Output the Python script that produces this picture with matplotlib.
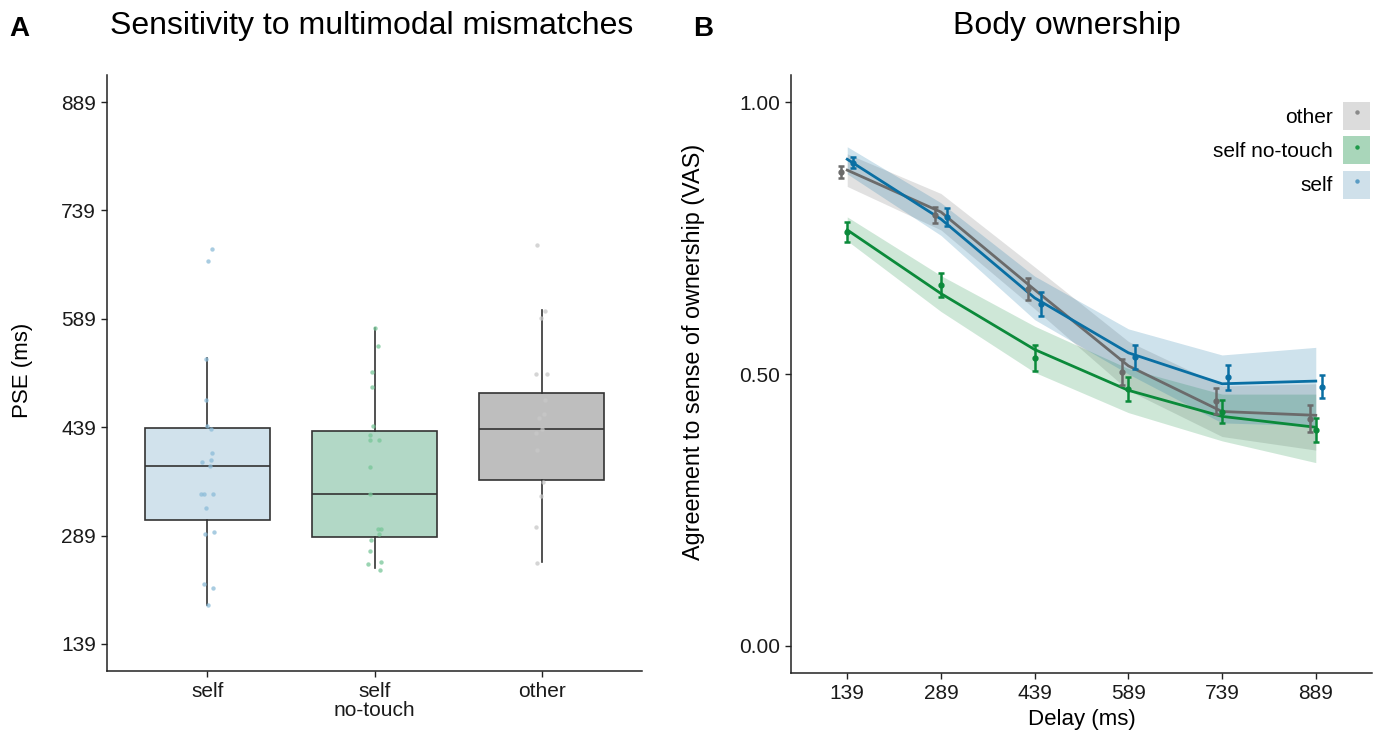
import matplotlib
matplotlib.use("Agg")
import matplotlib.pyplot as plt
from matplotlib.patches import Patch
from matplotlib.lines import Line2D
from matplotlib.legend_handler import HandlerTuple
import numpy as np

plt.rcParams['font.family'] = ['Liberation Sans', 'DejaVu Sans']

# ---------------- Panel A data ----------------
conditions = ["self", "self\nno-touch", "other"]
box_q1 = [310.6, 286.6, 365.5]
box_med = [385.3, 346.0, 436.5]
box_q3 = [438.3, 433.7, 487.0]
box_wlo = [193.0, 244.0, 253.0]
box_whi = [534.3, 576.0, 601.6]

pse_self = [686, 669, 534, 477, 441, 436, 403, 394, 391, 385, 346, 346, 346, 327, 294, 291, 222, 216, 193]
jit_self = [13, 1, -4, -5, -1, 9, 13, 10, -15, 8, -18, -10, 16, -5, 18, -7, -10, 16, 3]
pse_notouch = [576, 551, 515, 495, 440, 428, 421, 421, 384, 346, 298, 298, 291, 283, 268, 253, 249, 241]
jit_notouch = [2, 9, -8, -8, -4, -12, -14, 12, -12, -14, 11, 17, 13, -9, -14, 18, -19, 16]
pse_other = [691, 600, 590, 513, 513, 477, 457, 452, 436, 431, 407, 363, 344, 301, 251]
jit_other = [-13, 10, -2, -16, 16, 10, 7, -8, 0, -16, -13, 5, -2, -17, -12]

box_fill = ["#D1E2EC", "#B2D8C6", "#BEBEBE"]
pt_color = ["#8CBCD8", "#78C698", "#C8C8C8"]
a_yticks = [139, 289, 439, 589, 739, 889]

# ---------------- Panel B data ----------------
delays = [139, 289, 439, 589, 739, 889]
groups = ["other", "self no-touch", "self"]
fit_other = [0.875, 0.798, 0.655, 0.515, 0.431, 0.424]
fit_notouch = [0.765, 0.648, 0.545, 0.470, 0.422, 0.402]
fit_self = [0.895, 0.785, 0.640, 0.539, 0.482, 0.487]
lo_other = [0.845, 0.765, 0.620, 0.470, 0.385, 0.360]
hi_other = [0.905, 0.832, 0.697, 0.560, 0.478, 0.482]
lo_notouch = [0.745, 0.615, 0.503, 0.429, 0.377, 0.337]
hi_notouch = [0.789, 0.681, 0.588, 0.510, 0.463, 0.463]
lo_self = [0.868, 0.755, 0.600, 0.500, 0.410, 0.405]
hi_self = [0.918, 0.815, 0.680, 0.583, 0.535, 0.549]
mean_other = [0.871, 0.792, 0.657, 0.503, 0.451, 0.418]
se_other = [0.011, 0.015, 0.020, 0.024, 0.024, 0.025]
mean_notouch = [0.761, 0.664, 0.529, 0.472, 0.431, 0.397]
se_notouch = [0.018, 0.022, 0.024, 0.022, 0.022, 0.022]
mean_self = [0.889, 0.789, 0.629, 0.531, 0.494, 0.477]
se_self = [0.010, 0.017, 0.022, 0.022, 0.023, 0.022]

line_colors = ["#6B6B6B", "#0B8A3A", "#0A6FA3"]
key_fill = ["#DCDCDC", "#A9D6BA", "#CFE0EA"]
key_dot = ["#8A8A8A", "#1E9A4A", "#5A9CC4"]
dodge = [-10, 0, 10]

# ---------------- Figure ----------------
fig = plt.figure(figsize=(13.78, 7.36), dpi=100)
W, H = 1378, 736
axA = fig.add_axes([107 / W, 1 - 671 / H, (642 - 107) / W, (671 - 75) / H])
axB = fig.add_axes([791 / W, 1 - 673 / H, (1372 - 791) / W, (673 - 75) / H])

spine_c = "#222222"
for ax in (axA, axB):
    for s in ("top", "right"):
        ax.spines[s].set_visible(False)
    for s in ("left", "bottom"):
        ax.spines[s].set_linewidth(1.1)
        ax.spines[s].set_color(spine_c)
    ax.tick_params(axis="both", length=4, width=1.0, color=spine_c,
                   labelsize=15, labelcolor="#1a1a1a", pad=4)

# Panel A
stats = []
for i in range(3):
    stats.append(dict(med=box_med[i], q1=box_q1[i], q3=box_q3[i],
                      whislo=box_wlo[i], whishi=box_whi[i], fliers=[]))
pos = np.arange(1, 4)
bp = axA.bxp(stats, positions=pos, widths=0.75, patch_artist=True,
             showcaps=False, showfliers=False,
             boxprops=dict(linewidth=1.2, edgecolor="#333333"),
             medianprops=dict(color="#333333", linewidth=1.2),
             whiskerprops=dict(color="#333333", linewidth=1.2))
for patch, fc in zip(bp["boxes"], box_fill):
    patch.set_facecolor(fc)

for i, (vals, jit) in enumerate([(pse_self, jit_self), (pse_notouch, jit_notouch),
                                 (pse_other, jit_other)]):
    xs = pos[i] + np.array(jit) / 469.0
    axA.scatter(xs, vals, s=10, color=pt_color[i], alpha=0.75, linewidths=0, zorder=3)

axA.set_xlim(0.4, 3.6)
axA.set_ylim(101.5, 926.5)
axA.set_xticks(pos)
axA.set_xticklabels(conditions, linespacing=1.0)
axA.set_yticks(a_yticks)
axA.set_ylabel("PSE (ms)", fontsize=16)
axA.yaxis.set_label_coords(-0.138, 0.505)

# Panel B
fits = [fit_other, fit_notouch, fit_self]
los = [lo_other, lo_notouch, lo_self]
his = [hi_other, hi_notouch, hi_self]
means = [mean_other, mean_notouch, mean_self]
ses = [se_other, se_notouch, se_self]
d = np.array(delays)
for i in range(3):
    axB.fill_between(d, los[i], his[i], color=line_colors[i], alpha=0.2,
                     linewidth=0, zorder=1)
for i in range(3):
    axB.plot(d, fits[i], color=line_colors[i], linewidth=2.0, zorder=3)
for i in range(3):
    axB.errorbar(d + dodge[i], means[i], yerr=ses[i], fmt="o", color=line_colors[i],
                 markersize=3.5, elinewidth=1.8, capsize=2.5, capthick=1.8, zorder=4)

axB.set_xlim(139 - 90, 889 + 90)
axB.set_ylim(-0.05, 1.05)
axB.set_xticks(delays)
axB.set_yticks([0.0, 0.5, 1.0])
axB.set_yticklabels(["0.00", "0.50", "1.00"])
axB.set_xlabel("Delay (ms)", fontsize=16, labelpad=4)
axB.set_ylabel("Agreement to sense of ownership (VAS)", fontsize=16.8)
axB.yaxis.set_label_coords(-0.148, 0.537)

handles = []
for i in range(3):
    handles.append((Patch(facecolor=key_fill[i], edgecolor="none"),
                    Line2D([], [], marker="o", linestyle="none", markersize=2.2,
                           color=key_dot[i])))
leg = axB.legend(handles, groups, loc="upper right", bbox_to_anchor=(0.997, 0.955),
                 frameon=False, markerfirst=False, fontsize=15,
                 handlelength=1.3, handleheight=1.7, handletextpad=0.5,
                 labelspacing=0.3, borderpad=0, borderaxespad=0,
                 handler_map={tuple: HandlerTuple(ndivide=1)})
for t in leg.get_texts():
    t.set_ha("right")

# Titles and panel letters
fig.text(372 / W, 1 - 26 / H, "Sensitivity to multimodal mismatches", fontsize=23,
         ha="center", va="center")
fig.text(1067 / W, 1 - 26 / H, "Body ownership", fontsize=23, ha="center", va="center")
fig.text(9 / W, 1 - 29 / H, "A", fontsize=20, fontweight="bold", ha="left", va="center")
fig.text(693 / W, 1 - 29 / H, "B", fontsize=20, fontweight="bold", ha="left", va="center")

fig.savefig("out.png", dpi=100)
